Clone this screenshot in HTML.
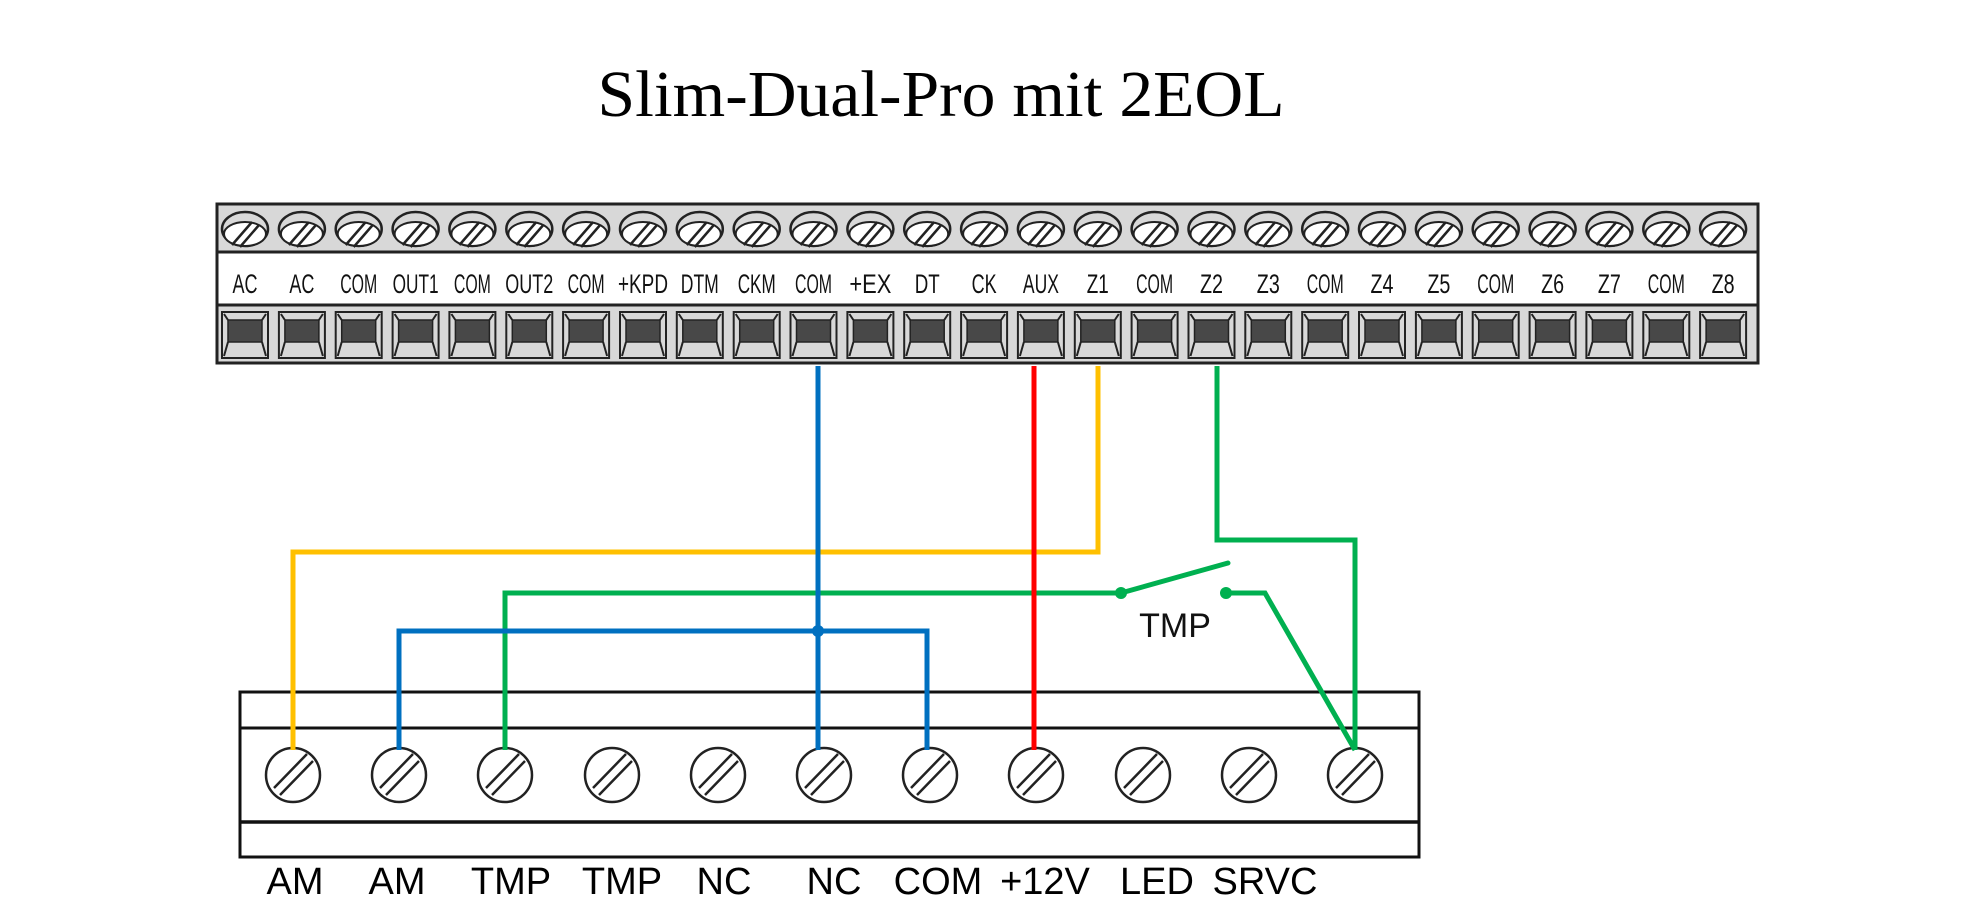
<!DOCTYPE html>
<html><head><meta charset="utf-8"><style>html,body{margin:0;padding:0;background:#fff}svg{display:block}</style></head>
<body>
<svg width="1969" height="907" viewBox="0 0 1969 907" xmlns="http://www.w3.org/2000/svg">
<defs>
<g id="tt">
<ellipse cx="0" cy="229" rx="23" ry="17" fill="#d8d8d8" stroke="#222" stroke-width="2.5"/>
<ellipse cx="0" cy="234" rx="21" ry="12" fill="#fff" stroke="#222" stroke-width="2"/>
<line x1="-13" y1="245" x2="7" y2="222" stroke="#222" stroke-width="2.5"/>
<line x1="-5" y1="247" x2="14" y2="225" stroke="#222" stroke-width="2.5"/>
<rect x="-23" y="312" width="46" height="46" fill="#d8d8d8" stroke="#222" stroke-width="2"/>
<rect x="-17" y="320" width="34" height="22" fill="#484848" stroke="#222" stroke-width="1.5"/>
<path d="M-17 320L-21 314M17 320L21 314M-17 342L-21 356M17 342L21 356" stroke="#222" stroke-width="2"/>
</g>
<g id="bs">
<circle cx="0" cy="775" r="27" fill="#fff" stroke="#222" stroke-width="2.5"/>
<line x1="-19" y1="788" x2="14" y2="754" stroke="#222" stroke-width="2.5"/>
<line x1="-13" y1="795" x2="20" y2="761" stroke="#222" stroke-width="2.5"/>
</g>
</defs>
<text x="941" y="116" font-family="Liberation Serif, serif" font-size="66" text-anchor="middle" textLength="687" lengthAdjust="spacingAndGlyphs">Slim-Dual-Pro mit 2EOL</text>

<rect x="217" y="204" width="1541" height="159" fill="#d8d8d8" stroke="#222" stroke-width="3"/>
<rect x="217" y="252" width="1541" height="53" fill="#fff" stroke="#222" stroke-width="3"/>
<use href="#tt" x="245"/><use href="#tt" x="301.9"/><use href="#tt" x="358.7"/><use href="#tt" x="415.6"/><use href="#tt" x="472.4"/><use href="#tt" x="529.3"/><use href="#tt" x="586.1"/><use href="#tt" x="643"/><use href="#tt" x="699.8"/><use href="#tt" x="756.7"/><use href="#tt" x="813.5"/><use href="#tt" x="870.4"/><use href="#tt" x="927.2"/><use href="#tt" x="984.1"/><use href="#tt" x="1040.9"/><use href="#tt" x="1097.8"/><use href="#tt" x="1154.6"/><use href="#tt" x="1211.5"/><use href="#tt" x="1268.3"/><use href="#tt" x="1325.2"/><use href="#tt" x="1382"/><use href="#tt" x="1438.9"/><use href="#tt" x="1495.7"/><use href="#tt" x="1552.6"/><use href="#tt" x="1609.4"/><use href="#tt" x="1666.3"/><use href="#tt" x="1723.1"/>
<g font-family="Liberation Sans, sans-serif" font-size="27" text-anchor="middle" fill="#111">
<text x="245" y="293" textLength="25" lengthAdjust="spacingAndGlyphs">AC</text>
<text x="301.9" y="293" textLength="25" lengthAdjust="spacingAndGlyphs">AC</text>
<text x="358.7" y="293" textLength="37" lengthAdjust="spacingAndGlyphs">COM</text>
<text x="415.6" y="293" textLength="46" lengthAdjust="spacingAndGlyphs">OUT1</text>
<text x="472.4" y="293" textLength="37" lengthAdjust="spacingAndGlyphs">COM</text>
<text x="529.3" y="293" textLength="48" lengthAdjust="spacingAndGlyphs">OUT2</text>
<text x="586.1" y="293" textLength="37" lengthAdjust="spacingAndGlyphs">COM</text>
<text x="643" y="293" textLength="50" lengthAdjust="spacingAndGlyphs">+KPD</text>
<text x="699.8" y="293" textLength="38" lengthAdjust="spacingAndGlyphs">DTM</text>
<text x="756.7" y="293" textLength="38" lengthAdjust="spacingAndGlyphs">CKM</text>
<text x="813.5" y="293" textLength="37" lengthAdjust="spacingAndGlyphs">COM</text>
<text x="870.4" y="293" textLength="42" lengthAdjust="spacingAndGlyphs">+EX</text>
<text x="927.2" y="293" textLength="25" lengthAdjust="spacingAndGlyphs">DT</text>
<text x="984.1" y="293" textLength="25" lengthAdjust="spacingAndGlyphs">CK</text>
<text x="1040.9" y="293" textLength="36" lengthAdjust="spacingAndGlyphs">AUX</text>
<text x="1097.8" y="293" textLength="22" lengthAdjust="spacingAndGlyphs">Z1</text>
<text x="1154.6" y="293" textLength="37" lengthAdjust="spacingAndGlyphs">COM</text>
<text x="1211.5" y="293" textLength="23" lengthAdjust="spacingAndGlyphs">Z2</text>
<text x="1268.3" y="293" textLength="23" lengthAdjust="spacingAndGlyphs">Z3</text>
<text x="1325.2" y="293" textLength="37" lengthAdjust="spacingAndGlyphs">COM</text>
<text x="1382" y="293" textLength="23" lengthAdjust="spacingAndGlyphs">Z4</text>
<text x="1438.9" y="293" textLength="23" lengthAdjust="spacingAndGlyphs">Z5</text>
<text x="1495.7" y="293" textLength="37" lengthAdjust="spacingAndGlyphs">COM</text>
<text x="1552.6" y="293" textLength="23" lengthAdjust="spacingAndGlyphs">Z6</text>
<text x="1609.4" y="293" textLength="23" lengthAdjust="spacingAndGlyphs">Z7</text>
<text x="1666.3" y="293" textLength="37" lengthAdjust="spacingAndGlyphs">COM</text>
<text x="1723.1" y="293" textLength="23" lengthAdjust="spacingAndGlyphs">Z8</text>
</g>

<rect x="240" y="692" width="1179" height="165" fill="#fff" stroke="#111" stroke-width="3"/>
<line x1="240" y1="728" x2="1419" y2="728" stroke="#111" stroke-width="3"/>
<line x1="240" y1="822" x2="1419" y2="822" stroke="#111" stroke-width="3.5"/>
<use href="#bs" x="293"/><use href="#bs" x="399"/><use href="#bs" x="505"/><use href="#bs" x="612"/><use href="#bs" x="718"/><use href="#bs" x="824"/><use href="#bs" x="930"/><use href="#bs" x="1036"/><use href="#bs" x="1143"/><use href="#bs" x="1249"/><use href="#bs" x="1355"/>

<g fill="none" stroke-width="5" stroke-linejoin="miter">
<path d="M1098 366V552H293V750" stroke="#ffc000"/>
<path d="M505 750V593H1121" stroke="#00b050"/>
<path d="M818 366V750" stroke="#0070c0"/>
<path d="M399 750V631H927V750" stroke="#0070c0"/>
<path d="M1034 366V750" stroke="#ff0000"/>
<path d="M1217 366V540H1355V750" stroke="#00b050"/>
<path d="M1121 593L1228 563" stroke="#00b050" stroke-linecap="round"/>
<path d="M1226 593H1265L1355 750" stroke="#00b050"/>
</g>
<circle cx="818" cy="631" r="6" fill="#0070c0"/>
<circle cx="1121" cy="593" r="6" fill="#00b050"/>
<circle cx="1226" cy="593" r="6" fill="#00b050"/>
<text x="1175" y="637" font-family="Liberation Sans, sans-serif" font-size="34" text-anchor="middle" fill="#111">TMP</text>

<g font-family="Liberation Sans, sans-serif" font-size="38" text-anchor="middle" fill="#000">
<text x="295" y="894">AM</text>
<text x="397" y="894">AM</text>
<text x="511" y="894">TMP</text>
<text x="622" y="894">TMP</text>
<text x="724" y="894">NC</text>
<text x="834" y="894">NC</text>
<text x="938" y="894">COM</text>
<text x="1045" y="894">+12V</text>
<text x="1157" y="894">LED</text>
<text x="1265" y="894">SRVC</text>
</g>
</svg>
</body></html>
